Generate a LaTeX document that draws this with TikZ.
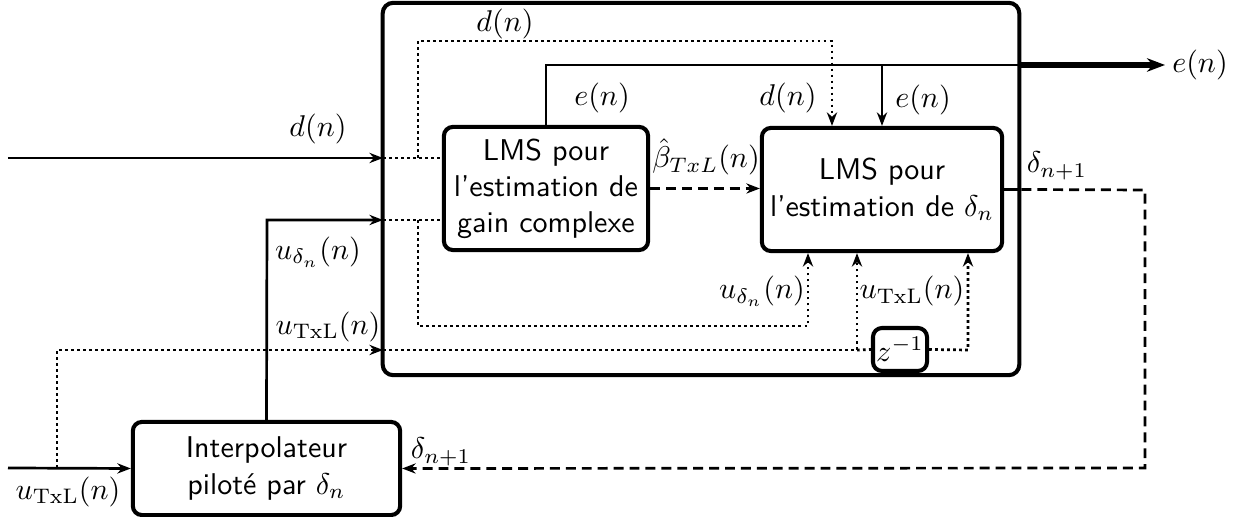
\documentclass[tikz,border=0pt]{standalone}
\usetikzlibrary{arrows.meta}
\begin{document}
\begin{tikzpicture}[x=0.0117cm,y=-0.0117cm,
 blk/.style={draw,line width=1.35pt,rounded corners=3pt,align=center,font=\sffamily,inner sep=0pt},
 ln/.style={line width=0.9pt},
 dot/.style={line width=0.9pt,dash pattern=on 0.9pt off 1.1pt},
 dsh/.style={line width=0.9pt,dash pattern=on 3.3pt off 2pt},
 arr/.style={-{Stealth[length=4.5pt,width=3.4pt]}},
 lab/.style={inner sep=0pt}]
\useasboundingbox (0,0) rectangle (1244,517);
\node[blk,minimum width=212pt,minimum height=124pt,rounded corners=3.5pt] (outer) at (701,189) {};
\node[blk,minimum width=68pt,minimum height=41pt] (lms1) at (546,188.5) {LMS pour\\l'estimation de\\gain complexe};
\node[blk,minimum width=80pt,minimum height=41pt] (lms2) at (882,189.5) {LMS pour\\l'estimation de $\delta_n$};
\node[blk,minimum width=89pt,minimum height=31pt] (interp) at (266.5,468.5) {Interpolateur\\pilot\'e par $\delta_n$};
\node[blk,minimum width=18pt,minimum height=14.3pt] (z) at (900,349.5) {$z^{-1}$};
% coordinates
\coordinate (din) at (8,158);
\coordinate (dB) at (383,158);
\coordinate (dJ) at (418,158);
\coordinate (dT1) at (418,41);
\coordinate (dT2) at (832,41);
\coordinate (e1) at (546,65);
\coordinate (eJ) at (882,65);
\coordinate (eB) at (1019,65);
\coordinate (eout) at (1165,65);
\coordinate (dnR) at (1145,190);
\coordinate (dnB) at (1145,468);
\coordinate (uI) at (267,220);
\coordinate (uB) at (383,220);
\coordinate (uJ) at (418,220);
\coordinate (uL) at (418,326);
\coordinate (uR) at (808,326);
\coordinate (tin) at (8,468);
\coordinate (tJ) at (57,468);
\coordinate (tT) at (57,350);
\coordinate (tB) at (383,350);
\coordinate (tK) at (857,350);
\coordinate (tZ) at (968,350);
% d(n)
\draw[ln,arr] (din) -- (dB);
\draw[dot] (dB) -- (dB -| lms1.west);
\draw[dot,arr] (dJ) -- (dT1) -- (dT2) -- (dT2 |- lms2.north);
% e(n)
\draw[ln] (lms1.north) -- (e1) -- (eB);
\draw[line width=1.8pt,-{Stealth[length=6pt,width=4.5pt]}] (eB) -- (eout);
\draw[ln,arr] (eJ) -- (lms2.north);
% beta
\draw[dsh,arr] (lms1.east) -- (lms1.east -| lms2.west);
% delta n+1
\draw[ln] (lms2.east) -- (outer.east |- lms2.east);
\draw[dsh,arr] (outer.east |- lms2.east) -- (dnR) -- (dnB) -- (interp.east);
% u delta
\draw[ln,arr] (interp.north) -- (uI) -- (uB);
\draw[dot] (uB) -- (uB -| lms1.west);
\draw[dot,arr] (uJ) -- (uL) -- (uR) -- (uR |- lms2.south);
% u TxL
\draw[ln,arr] (tin) -- (interp.west);
\draw[dot,arr] (tJ) -- (tT) -- (tB);
\draw[dot,arr] (tB) -- (tK) -- (tK |- lms2.south);
\draw[dot] (tK) -- (z.west);
\draw[dot,arr] (z.east) -- (tZ) -- (tZ |- lms2.south);
% labels
\node[lab] (l1) at (505,24) {$d(n)$};
\node[lab] (l2) at (602,98) {$e(n)$};
\node[lab] (l3) at (788,98) {$d(n)$};
\node[lab] (l4) at (923,100) {$e(n)$};
\node[lab] (l5) at (1200,65) {$e(n)$};
\node[lab] (l6) at (706,157) {$\hat{\beta}_{TxL}(n)$};
\node[lab] (l7) at (1057,166) {$\delta_{n+1}$};
\node[lab] (l8) at (318,129) {$d(n)$};
\node[lab] (l9) at (318,252) {$u_{\delta_n}(n)$};
\node[lab] (l10) at (328,327) {$u_{\mathrm{TxL}}(n)$};
\node[lab] (l11) at (68,492) {$u_{\mathrm{TxL}}(n)$};
\node[lab] (l12) at (441,452) {$\delta_{n+1}$};
\node[lab] (l13) at (762,291) {$u_{\delta_n}(n)$};
\node[lab] (l14) at (912,291) {$u_{\mathrm{TxL}}(n)$};
\end{tikzpicture}
\end{document}
